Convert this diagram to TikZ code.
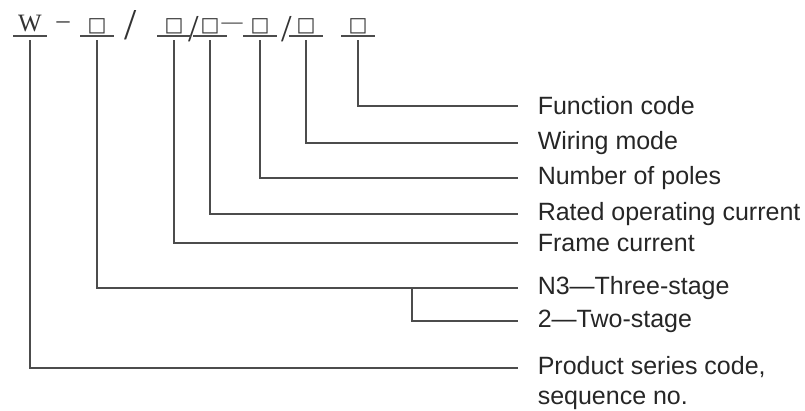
\documentclass[tikz,border=0pt]{standalone}
\usepackage{fontspec}
\setmainfont{Liberation Sans}
\newfontfamily\codefont[Ligatures=TeX]{Liberation Serif}
\newfontfamily\boxfont{DejaVu Sans}
\newcommand{\bx}{{\boxfont\char"25A1}}

\begin{document}
\begin{tikzpicture}[x=1pt,y=-1pt,line width=1.5pt]

        \useasboundingbox (0,0) rectangle (805,410);

        % code positions
        \begin{scope}[every node/.style={anchor=south,inner sep=0pt,inner ysep=4pt,minimum width=32pt,text depth=0pt,text=black!80,font=\fontsize{20}{24}\codefont}]
          \node[font=\fontsize{25}{28}\codefont] (w) at (30,36) {W};
          \node (c1) at (97,36)  {\bx};
          \node (c2) at (174,36) {\bx};
          \node (c3) at (210,36) {\bx};
          \node (c4) at (260,36) {\bx};
          \node (c5) at (306,36) {\bx};
          \node (c6) at (358,36) {\bx};
        \end{scope}

        \begin{scope}[every node/.style={inner sep=0pt,text=black!80,font=\fontsize{26}{30}\codefont}]
          \node (s1) at (63,25) {\textendash};
          \node[font=\fontsize{44}{48}\codefont] (s2) at (131,25) {/};
          \node[font=\fontsize{38}{42}\codefont] (s3) at (194,29) {/};
          \node[font=\fontsize{21}{24}\codefont] (s4) at (232,26) {\textemdash};
          \node[font=\fontsize{38}{42}\codefont] (s5) at (287,29) {/};
        \end{scope}

        % meanings
        \begin{scope}[every node/.style={anchor=west,inner sep=0pt,inner xsep=19pt,text=black!85,font=\fontsize{25}{30}\selectfont}]
          \node (fn)     at (518,106) {Function code};
          \node (wire)   at (518,143) {Wiring mode};
          \node (poles)  at (518,178) {Number of poles};
          \node (rated)  at (518,214) {Rated operating current};
          \node (frame)  at (518,243) {Frame current};
          \node (stage3) at (518,288) {N3---Three-stage};
          \node (stage2) at (518,321) {2---Two-stage};
          \node[anchor=north west,align=left] (series) at (518,356) {Product series code,\\sequence no.};
        \end{scope}

        \coordinate (fork) at (412,288);
        \coordinate (seriesend) at (518,368);

        \begin{scope}[every path/.style={draw=black!70}]
          \foreach \n in {w,c1,c2,c3,c4,c5,c6}
            \draw[line width=1.2pt] (\n.south west) -- (\n.south east);

          \draw ([yshift=-4pt]c6.south) |- (fn.west);
          \draw ([yshift=-4pt]c5.south) |- (wire.west);
          \draw ([yshift=-4pt]c4.south) |- (poles.west);
          \draw ([yshift=-4pt]c3.south) |- (rated.west);
          \draw ([yshift=-4pt]c2.south) |- (frame.west);
          \draw ([yshift=-4pt]c1.south) |- (stage3.west);
          \draw (fork) |- (stage2.west);
          \draw ([yshift=-4pt]w.south) |- (seriesend);
        \end{scope}

      \end{tikzpicture}
\end{document}
